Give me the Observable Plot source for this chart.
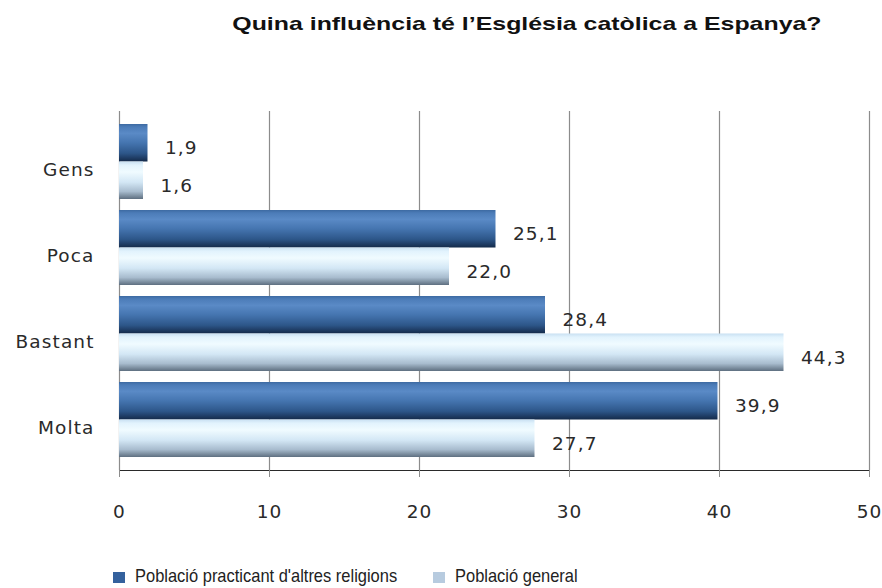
<!DOCTYPE html>
<html>
<head>
<meta charset="utf-8">
<script src="https://cdn.jsdelivr.net/npm/d3@7"></script>
<script src="https://cdn.jsdelivr.net/npm/@observablehq/plot@0.6"></script>
<style>
  html, body { margin: 0; padding: 0; background: #fff; }
  #wrap { width: 882px; height: 588px; position: relative; overflow: hidden; }
  #title { height: 48px; box-sizing: border-box; padding-top: 14px; padding-left: 172px; text-align: center;
    font: bold 19px "Liberation Sans", Arial, sans-serif; line-height: 19px; color: #111; }
  #title span { display: inline-block; transform: scaleX(1.31); transform-origin: center; white-space: nowrap; }
  #legend { position: relative; height: 48px; font: 18.5px "Liberation Sans", Arial, sans-serif; color: #222; }
  .item { position: absolute; top: 0; height: 48px; }
  .sw { position: absolute; top: 32px; width: 12px; height: 11px; }
  .lab { position: absolute; top: 26px; left: 22px; line-height: 20px; white-space: nowrap; transform: scaleX(0.89); transform-origin: left center; }
  g[aria-label^="x-axis"] line, g[aria-label^="x-axis"] path { stroke: #8c8c8c; stroke-opacity: 1; }
</style>
</head>
<body>
<div id="wrap">
  <div id="title"><span id="titleSpan"></span></div>
  <div id="chart"></div>
  <div id="legend"></div>
</div>
<script>
const titleText = "Quina influència té l’Església catòlica a Espanya?";
const categories = ["Gens", "Poca", "Bastant", "Molta"];
const seriesNames = ["Població practicant d'altres religions", "Població general"];
const practicants = [1.9, 25.1, 28.4, 39.9];
const general = [1.6, 22.0, 44.3, 27.7];
const xTicks = [0, 10, 20, 30, 40, 50];
const legendColors = ["#34619d", "#b7cbdf"];

document.getElementById("titleSpan").textContent = titleText;

const rows = categories.map((c, i) => ({cat: c, pract: practicants[i], gen: general[i]}));
const fmt = v => d3.format(".1f")(v).replace(".", ",");

const yOpts = {type: "band", domain: categories, range: [63, 422], paddingInner: 0.131, paddingOuter: 0.146};
const bw = Plot.scale({y: yOpts}).bandwidth;

const chart = Plot.plot({
  width: 882,
  height: 492,
  marginLeft: 119,
  marginRight: 13,
  marginTop: 63,
  marginBottom: 70,
  style: {fontFamily: "DejaVu Sans, Verdana, sans-serif", fontSize: "18.5px", letterSpacing: "1.1px", color: "#2a2a2a", background: "#fff"},
  x: {domain: [0, 50], axis: "bottom", ticks: xTicks, tickSize: 7, tickPadding: 27, tickFormat: d => String(d), line: true, label: null},
  y: {domain: categories, range: [63, 422], paddingInner: 0.131, paddingOuter: 0.146, axis: null},
  marks: [
    Plot.ruleX(xTicks, {x: d => d, stroke: "#8c8c8c", strokeWidth: 1.2}),
    Plot.barX(rows, {x: "pract", y: "cat", insetBottom: bw / 2, fill: "url(#gDark)"}),
    Plot.barX(rows, {x: "gen", y: "cat", insetTop: bw / 2, fill: "url(#gLight)"}),
    Plot.text(rows, {x: "pract", y: "cat", text: d => fmt(d.pract), dx: 17, dy: -bw / 4 + 5, textAnchor: "start", fill: "#2a2a2a"}),
    Plot.text(rows, {x: "gen", y: "cat", text: d => fmt(d.gen), dx: 17, dy: bw / 4 + 5, textAnchor: "start", fill: "#2a2a2a"}),
    Plot.text(categories, {x: () => 0, y: d => d, text: d => d, dx: -25, dy: 8, textAnchor: "end", fill: "#2a2a2a"})
  ]
});

// gradients for the bars
const ns = "http://www.w3.org/2000/svg";
const defs = document.createElementNS(ns, "defs");
function grad(id, stops) {
  const g = document.createElementNS(ns, "linearGradient");
  g.setAttribute("id", id);
  g.setAttribute("x1", "0"); g.setAttribute("y1", "0");
  g.setAttribute("x2", "0"); g.setAttribute("y2", "1");
  for (const [o, c] of stops) {
    const s = document.createElementNS(ns, "stop");
    s.setAttribute("offset", o);
    s.setAttribute("stop-color", c);
    g.appendChild(s);
  }
  defs.appendChild(g);
}
grad("gDark", [["0", "#3d6aa2"], ["0.08", "#4c7cb8"], ["0.25", "#5a8ac6"], ["0.5", "#4575b0"], ["0.78", "#2d5689"], ["1", "#142a4a"]]);
grad("gLight", [["0", "#c9e0f2"], ["0.1", "#e2f3fd"], ["0.28", "#f0fbff"], ["0.55", "#d3e7f5"], ["0.8", "#a8bcce"], ["1", "#5e6f80"]]);
chart.insertBefore(defs, chart.firstChild);
document.getElementById("chart").appendChild(chart);

// legend
const legend = document.getElementById("legend");
const lefts = [113, 433];
seriesNames.forEach((name, i) => {
  const it = document.createElement("div");
  it.className = "item";
  it.style.left = lefts[i] + "px";
  const sw = document.createElement("div");
  sw.className = "sw";
  sw.style.background = legendColors[i];
  const lab = document.createElement("div");
  lab.className = "lab";
  lab.textContent = name;
  it.appendChild(sw);
  it.appendChild(lab);
  legend.appendChild(it);
});
</script>
</body>
</html>
